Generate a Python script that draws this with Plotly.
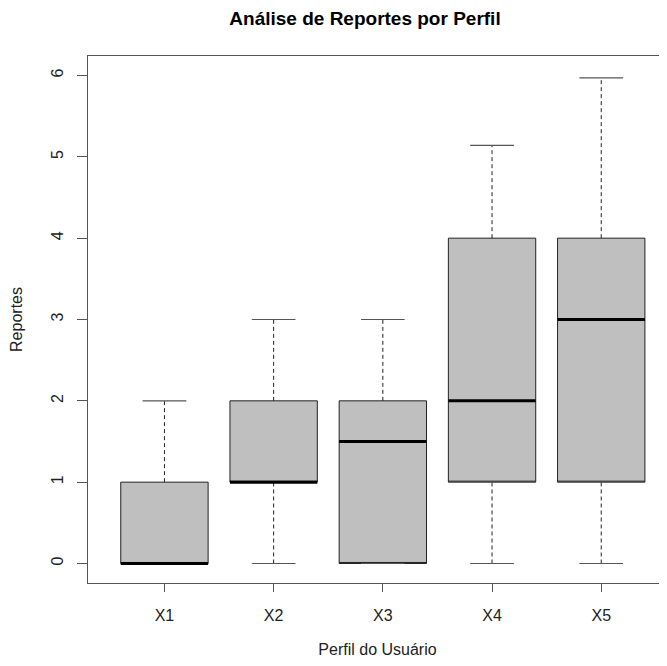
import plotly.graph_objects as go

categories = ["X1", "X2", "X3", "X4", "X5"]
lower = [0, 0, 0, 0, 0]
q1 = [0, 1, 0, 1, 1]
median = [0, 1, 1.5, 2, 3]
q3 = [1, 2, 2, 4, 4]
upper = [2, 3, 3, 5.14, 5.97]
y_ticks = [0, 1, 2, 3, 4, 5, 6]

BOX_W = 0.8
CAP_W = 0.4
FONT = "Liberation Sans, Arial, sans-serif"
OFF = 8  # page body margin
W, H = 667 - OFF, 666 - 2 * OFF
PX_PER_UNIT = 109.2

fig = go.Figure()
pos = list(range(1, len(categories) + 1))

# whiskers (dashed) and caps
for i, p in enumerate(pos):
    fig.add_trace(go.Scatter(x=[p, p], y=[q3[i], upper[i]], mode="lines",
                             line=dict(color="#222", width=1, dash="4px,3px"),
                             hoverinfo="skip", showlegend=False))
    fig.add_trace(go.Scatter(x=[p, p], y=[lower[i], q1[i]], mode="lines",
                             line=dict(color="#222", width=1, dash="4px,3px"),
                             hoverinfo="skip", showlegend=False))
    for v in (upper[i], lower[i]):
        fig.add_trace(go.Scatter(x=[p - CAP_W / 2, p + CAP_W / 2], y=[v, v], mode="lines",
                                 line=dict(color="#555", width=1.2),
                                 hoverinfo="skip", showlegend=False))

# boxes
for i, p in enumerate(pos):
    fig.add_trace(go.Box(x=[p], q1=[q1[i]], median=[q1[i]], q3=[q3[i]],
                         lowerfence=[q1[i]], upperfence=[q3[i]],
                         width=BOX_W, fillcolor="#bfbfbf",
                         line=dict(color="#222", width=1),
                         whiskerwidth=0, hoverinfo="skip", showlegend=False,
                         name=categories[i]))

# medians (thick)
for i, p in enumerate(pos):
    fig.add_trace(go.Scatter(x=[p - BOX_W / 2, p + BOX_W / 2], y=[median[i], median[i]],
                             mode="lines", line=dict(color="black", width=3),
                             hoverinfo="skip", showlegend=False))

plot_w = W - (88 - OFF)
fig.update_layout(
    width=W, height=H,
    margin=dict(l=88 - OFF, r=0, t=56 - OFF, b=H - (583 - OFF), autoexpand=False),
    plot_bgcolor="white", paper_bgcolor="white",
    font=dict(family=FONT, size=16, color="#222"),
    title=dict(text="<b>Análise de Reportes por Perfil</b>", x=(365 - OFF) / W, xanchor="center",
               xref="container", yref="container",
               y=1 - (18 - OFF) / H, yanchor="middle", font=dict(size=19, color="black"),
               automargin=False),
)
fig.update_xaxes(range=[0.3, 0.3 + plot_w / PX_PER_UNIT], tickmode="array", tickvals=pos,
                 ticktext=categories, ticks="outside", ticklen=8, tickcolor="#555",
                 tickfont=dict(size=16, color="#222"),
                 showline=True, linecolor="#555", linewidth=1, mirror=True,
                 showgrid=False, zeroline=False, ticklabelstandoff=10, automargin=False,
                 title=dict(text="Perfil do Usuário", standoff=33, font=dict(size=16)))
fig.update_yaxes(range=[-0.24, 6.24], tickmode="array", tickvals=y_ticks,
                 ticktext=[str(t) for t in y_ticks], tickangle=-90,
                 ticks="outside", ticklen=10, tickcolor="#555",
                 tickfont=dict(size=16, color="#222"),
                 showline=True, linecolor="#555", linewidth=1,
                 showgrid=False, zeroline=False, ticklabelstandoff=8, automargin=False,
                 title=dict(text="Reportes", standoff=22, font=dict(size=16)))

fig.write_html("out.html")
